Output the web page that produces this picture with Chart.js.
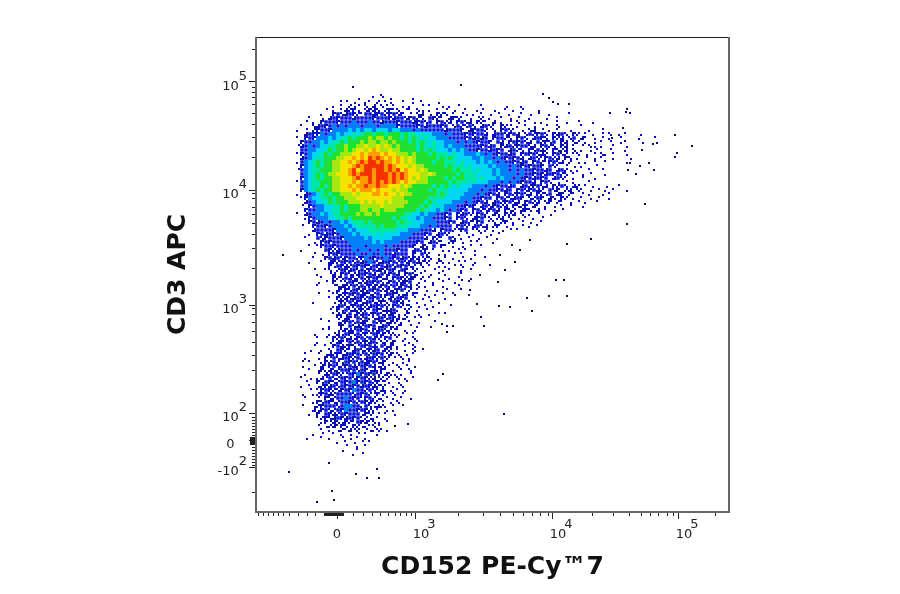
<!DOCTYPE html>
<html><head><meta charset="utf-8">
<script src="https://cdn.jsdelivr.net/npm/chart.js@4"></script>
<style>html,body{margin:0;padding:0;background:#fff}canvas{display:block}</style>
</head><body><canvas id="c" width="900" height="594"></canvas>
<script>
// Axis units are display channels of the biexponential cytometry scale.
const xTickChannels=[81,159,296,422];
const xTickLabels=[["","0   "],["     3","10"],["     4","10"],["     5","10"]];
const yTickChannels=[45,72,99,207,322,430];
const yTickLabels=[["2","-10  "],["","0   "],["2","10  "],["3","10  "],["4","10  "],["5","10  "]];
const xMinorChannels=[2,7,12,17,22,27,33,42,51,59,68,69,70,71,72,73,74,75,76,77,78,79,80,82,83,84,85,86,87,97,107,116,124,132,139,144,150,155,202,227,244,257,267,276,284,292,336,357,373,385,394,402,411,417,459];
const yMinorChannels=[463,425,420,415,408,399,388,375,355,319,314,305,298,289,278,264,244,204,198,190,181,170,157,142,123,95,92,89,86,83,80,77,65,62,59,56,53,50,47,20];
const yDenseChannels=[75,74,73,71,70,69,68];
// Event density per cell: . none; a-h scattered single events inside the cell; 2 blue ... 9 orange, r red
const densityTop=[
".......................c",
".................d...a.b.d.....c",
".............ab.d..ca.f.ad..b..c.a...d",
"...........c.a.fdb.e.h.eb.a.d.c..b.a..d.c.b.....a.....d...c",
".........b.c.ahfgd.eghe.fgae.ba.ed.c.a.b.d..a..cb..d..a.c.b...d",
"........c..g2eh2gfa22hg2fg2eg.b.eh.d.gfe.a.bd.c.a.d.b..c..a.d.b..c....a",
".....a..d.h2g222h2222g222gh22eg2fe.2gfa.hgea.d.bf.c..a.d.b..c...d..a",
"....b.c.g222g2223222322h222g222hg2e2.g2fh.g2eh.gfa.h.c.b.e.a.d.c...a.d..b...c",
"...a..eh2g23232333233323333g2222g2h222g2.e2fe2e.h2ea.gfb.c.a.d..b..e.....a",
"..c.b.fg22g3333434344344434433323222222h222g.hg22f.e.g2ea.d.eh.b.c.a..d....c"];
const densityCore=[
"....h2gg323343445456656656665655454433323222g2g22h.h22eg2h.e2fg2e.gh2e.gf.a.c.b.e.d.a...c",
"..a.g2g3334345565666767767665656545443332222g2h2h2.g22fe.g2e.h2ge.gfh.e2.ha.d.b.c..a...d...b",
"...g2233434556566676776776766656565454433323232g22g.2h.g2g2eh.2fge2.gh.ef.c.d.a.b..c....d",
"..bh23234455667667787787876766665654544343332222g2h2.gh2fg22eh.g2fe.gh.a.b.ed.c..a..d",
"...22334456566767887898778776666565654443434322g22h2g2.h2fe.ge2hf.gefh.e.c.d.a..b...c",
"..ag234456566777889899989887776766656555454433343232g22h2.g2g2ehf.g2ef.ae.d.b.ec.a..d",
"...h2345566677889898r9r9898987876666656565444433433232g2g2h.h2eag2fh.ge.c.b.d.a..c...d",
"..c234565667788989r9rr9r99898787666656655545444343432322g2h2.g2fag2eh.f.d.c.b..a....d",
"...g3456566778889r9rrrrr9r98887877666665655545444434333232g2g22g.2ea.b.d.c...a",
"..b2345566677889r89rr9rr9r9r898878766666656555454443433232322g22h2.h2fd.c..a..b",
"...2345656778889r9rrr9rrr9r9r98887787666665655544443433332322g2gh2g2fe.a.d.b...c",
"...g3456566778889r99r9rrr9r9r987877666656566555454443433232g2h2g2.h2ea.c.b..d",
"..a23455666778889899r9r9r9r9898877766666565554544433323232g22h.g2e.d.b.c...a",
"...2345565677889899r99r99888787666665656545444333232g22h2.h2fg2eh.gf2e.hf.a.c..d..b",
"...g345656677888989998988878776666656555444443332322g2h2.g2eg2hf.2eg.fh.ea.d.b.c.a..d",
"..c.h234565667778788899898878776666665654444333232g2h.g2fg2eh.gfe2.hg.fa.b.c..d.a",
"...ag3445565667778888888887776666665555444433322g22.g2feh2g.ef2g.he.gf.c.a.d.b..c",
"....h234456566677787878878777766665654444333232g2h.h2fg2eh.g2fh.eg.fa.d.b.c..a",
"...b.g23344556566677777877777666656545433322g2g.h2eg2fh.gefg.ha.c.d.a.b..d",
"....g22334455656667767767776666656544343232g2.g2feg2h.gef.hge.h.a.d.b",
"..a.h2334345566667677676666665544343322g2.gh2eag2f.he.gfh.e.c.b..d",
"....cg233344556566666666665655443433222g2.g2e.hg2ae.fh.e.d.a.c.b",
".....g2h23233434555656666665655444333222g2.h2fag2.ae.fg.c.b.d..a",
"...b..g22g2333434555556566655544433232222.g2eah2eh.fg.d.a.b.c.a",
"......h2222g333434445555555444333222h.g22fbg2.ae.f.c.d.b.a",
".....c.g2h2g2333434445454444333222g2.h2ea.d.b.c.a.d.b",
"....a..2eg222g33333434444433332222h.gfa.2e.c.a.d.b..c",
"......d.g2g222233333343433332222g2.h2fa.fg.d.b.a...c",
".....a.ag22g2222333233332322222g.he.2.ga.c.d.b..a",
"...c.....2gfh22232332323222g22.h2fg.a.d.c.b.a.d",
"......b.d.g2g2222322322322h222.g.2ea.d.c.b.a..d"];
const densityStem=[
"......a..g2h2eg22fg32g2232g2h2eghbfe.d.a.c.b.d...a",
".....c..a.hgf2g2e2h232eh2g2f2eg2hfea.fe.c.b.a.d",
"..........gd2ghf2g2ge2g2h2e2g2ef.e.a.d.c.b.e..a",
"......b..ae.f2gh2e2fg2hgf2gd2g.ea.c.b.d.a..c.b",
".......c..bh.g2efh2g2hd2eg2h.g2eca.d.b.c...a",
"........a..gfe2hef2fg2geh.g2gfhg.f.a.d..c.b..d",
".......d.b.g.ae2gefh2g2edg2fhg2.d.a.c.b..d...a",
".......a...behgf2e2fgheg2f2eg2h.e.c.a.d...b",
"..........c.hage2ghe2g2fhefg2af.a.d..c.b...a",
".......b...aefg2g2hgef2ch2gedh.ga.c.d.b..a...c",
"..........a.gfheh2gf2g2eahe2g2.b.d.a...c",
"......c....dbgf2egeh2efgeb2gh.a.c..b.d",
"...........ch2efg2gfh2g2eag2fbe.d.a.c...b",
"..........b.gd2ehfgfa2gehh2c.ea.c.b",
"...........ahfe2dgh2fg2efhgd.fa.d..c.b.a",
"........c...eahgb2f2ceh2e2ghdf.b.a",
"..........a.dfg2e2hg.2fgeheac.a.d...b",
"..........c.bg.2ehf2g2dh2ecfa.b.c..d",
"........b.a.deghf2g2cgh2efba.c.d",
"......d...cbhd2ge2fgb2ghaeed.b.a",
".......a.b.gf2ehdg2f2heag2.a.c.e",
".......c..dahgb2e2fgh2cefdg.b.c.a",
"......b..a.g2hfgeb2g2hc2ehac.a.e",
".....d..c.e.2gfah2efgh2dgf.a.c.e.b",
"....a..b.dhfgeh2g2f2f2g2bhae.d.a",
"....c..d.gb2eh2gf2ch2gf2eab.e.c",
"...b.a..cgf2fd2g2e2hg2eha.c.d.a",
"...d..b.hag2efg2hf2g2hdfca.e.b.d",
".....a.dgchef22g2e2gdhcga.c.a.e",
"....c..b.hf2gfb2g3g2g2eahed.c.b",
"...a.d.chb2ef2g2eg2gfhbfda.e.c.a",
"....b..gd2gef2g23g2g2fgbac.d.b",
"...c.a.dfgh2e2g2g2h2ghfea.c.e",
".....b.ag2gfeg2g322f2eahcd.a.c",
"...d..cfg2hf2222e2g2fbgda.e.b",
"....a..b.gef2232g2ag2fdcb.c.a.d",
"......cge2gef22g2f2gheab.d.e",
"...b..dfg222e23322c2edhfc.a.b",
"......hdg2ef2g322g2gfca.d.c",
".....c.g.2ghf2g222dgeab.a.d",
".......afgeh2gh2g2afdca.c",
"........cgbhedgfa2ghaed.b",
".......b.dfhage.gfdcaeb",
"........a.c.dfahbf.bdcead",
"......c.b..a.c.d.b.a..c",
"....d...a.c..b.d.a.c",
"............c.a.d.b.a",
"..............b..c.a",
".............d...a",
"................c.b"];
// Isolated single events, x/y channel pairs
const outlierX=[97,205,287,293,297,302,313,354,371,370,374,473,419,436,401,397,386,421,419,393,398,384,380,374,372,369,367,356,347,389,371,335,311,300,308,293,311,271,276,254,243,221,225,228,186,191,197,191,248,187,182,73,33,100,111,123,121,76,78,61,139,152,27,244,259,249,234,264,224,242,214,199,206,256,274];
const outlierY=[425,427,418,414,410,408,408,399,403,400,399,397,377,366,369,368,362,359,355,349,342,346,338,349,342,371,384,374,383,308,288,273,268,232,232,216,216,214,201,205,206,208,195,186,188,186,186,180,98,138,132,49,40,38,34,34,43,21,12,10,86,88,257,257,250,242,247,262,237,230,222,217,232,267,272];

const levelOrder=["2","3","4","5","6","7","8","9","r"];
const levelColors=["#0a18dc","#0080f8","#00d8f0","#00e8a8","#20e030","#a8e810","#f4e400","#ff9a00","#f43000"];
const levelRadius=[2.5,2.95,2.95,2.95,2.95,2.95,2.95,2.95,2.95];
const subCells={a:[0],b:[1],c:[2],d:[3],e:[0,3],f:[1,2],g:[0,1,2],h:[1,2,3]};
const cellStep=4, gridLeft=32, gridTop=420;
const allRows=densityTop.concat(densityCore,densityStem);
const sparse=[];
const datasets=levelOrder.map((lv,i)=>{
  const pts=[];
  allRows.forEach((row,r)=>{for(let c=0;c<row.length;c++){if(row[c]===lv)pts.push({x:gridLeft+c*cellStep+2,y:gridTop-r*cellStep-2});}});
  return {data:pts,backgroundColor:levelColors[i],pointStyle:'rect',pointRadius:levelRadius[i],pointBorderWidth:0,showLine:false};
});
allRows.forEach((row,r)=>{for(let c=0;c<row.length;c++){const s=subCells[row[c]];if(s)s.forEach(q=>sparse.push({x:gridLeft+c*cellStep+1+(q%2)*2,y:gridTop-r*cellStep-1-(q>1?2:0)}));}});
datasets.unshift({data:sparse,backgroundColor:"#0a10b8",pointStyle:'rect',pointRadius:1.42,pointBorderWidth:0,showLine:false});
datasets.unshift({data:outlierX.map((x,i)=>({x:x,y:outlierY[i]})),backgroundColor:"#0a0a7a",pointStyle:'rect',pointRadius:1.42,pointBorderWidth:0,showLine:false});

const frame={id:'frame',afterDatasetsDraw(ch){
  const {ctx,chartArea:a,scales:{x,y}}=ch;
  ctx.save();
  ctx.strokeStyle='#222';ctx.lineWidth=1;
  xMinorChannels.forEach(v=>{const p=Math.round(x.getPixelForValue(v))+.5;ctx.beginPath();ctx.moveTo(p,a.bottom);ctx.lineTo(p,a.bottom+4);ctx.stroke();});
  yMinorChannels.forEach(v=>{const p=Math.round(y.getPixelForValue(v))+.5;ctx.beginPath();ctx.moveTo(a.left,p);ctx.lineTo(a.left-4,p);ctx.stroke();});
  yDenseChannels.forEach(v=>{const p=Math.round(y.getPixelForValue(v))+.5;ctx.beginPath();ctx.moveTo(a.left,p);ctx.lineTo(a.left-6,p);ctx.stroke();});
  ctx.strokeStyle='#1c1c1c';ctx.beginPath();ctx.moveTo(a.left,a.top+.5);ctx.lineTo(a.right,a.top+.5);ctx.stroke();
  ctx.strokeStyle='#666';ctx.lineWidth=2;
  ctx.beginPath();ctx.moveTo(a.right,a.top);ctx.lineTo(a.right,a.bottom);ctx.lineTo(a.left,a.bottom);ctx.lineTo(a.left,a.top);ctx.stroke();
  ctx.restore();
}};
const font='"DejaVu Sans",Verdana,sans-serif';
new Chart(document.getElementById('c'),{
  type:'scatter',
  data:{datasets},
  plugins:[frame],
  options:{
    responsive:false,animation:false,events:[],
    layout:{padding:{left:163,right:171,top:37,bottom:12}},
    plugins:{legend:{display:false},tooltip:{enabled:false},title:{display:false}},
    scales:{
      x:{type:'linear',min:0,max:473,
        afterBuildTicks(s){s.ticks=xTickChannels.map(v=>({value:v}));},
        afterFit(s){s.height=70;},
        grid:{drawOnChartArea:false,drawTicks:true,tickLength:7,tickColor:'#222'},
        border:{display:false},
        ticks:{autoSkip:false,maxRotation:0,color:'#222',padding:1,labelOffset:6,font:{family:font,size:13,lineHeight:0.76},
          callback(v){const i=xTickChannels.indexOf(v);return i<0?'':xTickLabels[i];}},
        title:{display:true,text:'CD152 PE-Cy™7',color:'#111',font:{family:font,size:25,weight:'bold'},padding:{top:0,bottom:0}}
      },
      y:{type:'linear',min:0,max:475,
        afterBuildTicks(s){s.ticks=yTickChannels.map(v=>({value:v}));},
        afterFit(s){s.width=93;},
        grid:{drawOnChartArea:false,drawTicks:true,tickLength:7,tickColor:'#222'},
        border:{display:false},
        ticks:{autoSkip:false,color:'#222',padding:2,font:{family:font,size:13,lineHeight:0.76},
          callback(v){const i=yTickChannels.indexOf(v);return i<0?'':yTickLabels[i];}},
        title:{display:true,text:'CD3 APC',color:'#111',font:{family:font,size:25,weight:'bold'},padding:{top:0,bottom:0}}
      }
    }
  }
});
</script></body></html>
